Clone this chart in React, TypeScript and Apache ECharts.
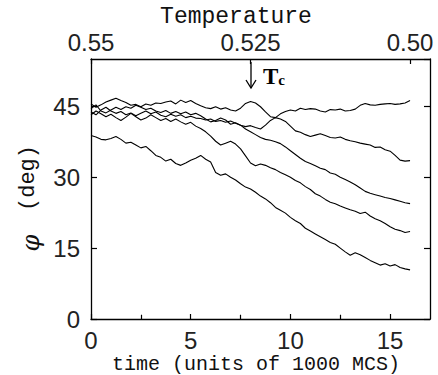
import React, { useEffect, useRef } from "react";
import * as echarts from "echarts";

const timeStep = 0.25;
const curveA = [45.5,44.8,45.3,45.9,46.3,46.7,46.2,45.8,45.2,45.4,44.9,45.5,45.2,45.7,45.6,45.9,46.1,45.5,46.3,45.8,46.2,45.6,45.1,44.7,44.5,44.9,44.4,44.7,44.2,44.0,44.6,45.6,46.0,45.7,44.9,43.8,42.8,42.6,43.4,43.9,44.2,44.0,44.6,44.3,44.5,44.4,44.0,43.8,44.3,44.2,44.4,44.0,44.1,44.4,45.2,45.6,45.3,45.2,45.4,45.5,45.6,45.4,45.5,45.7,46.2];
const curveB = [44.5,45.3,44.0,43.6,44.2,44.8,44.3,44.9,44.6,45.2,44.8,44.3,44.6,44.0,43.7,44.1,43.5,43.9,43.4,43.8,43.2,43.5,43.0,42.3,41.7,42.0,42.5,42.1,41.2,41.5,41.0,40.7,40.9,40.5,40.2,41.0,42.0,42.6,42.3,41.8,40.8,39.8,39.5,39.0,38.6,38.9,39.2,38.8,38.4,38.3,38.5,38.0,37.7,37.5,37.2,37.0,36.8,36.3,36.4,35.8,35.5,34.6,33.6,33.4,33.5];
const curveC = [43.8,43.2,44.2,44.8,44.0,43.5,43.9,43.2,43.6,43.0,43.5,44.0,43.4,43.8,43.1,42.8,43.3,42.9,43.2,42.6,42.9,42.5,42.4,42.1,42.3,41.8,42.0,41.6,41.9,41.4,41.0,40.2,39.6,39.0,38.4,38.0,37.8,37.5,37.1,36.4,35.6,34.8,34.0,33.3,32.9,32.4,31.9,31.6,30.9,30.6,30.0,29.5,29.0,28.4,27.7,27.0,26.6,26.3,26.0,25.7,25.5,25.2,24.9,24.6,24.4];
const curveD = [43.2,44.0,43.4,42.8,43.3,42.6,42.0,42.7,43.5,42.8,42.1,42.5,43.2,42.6,42.0,42.4,41.8,42.3,41.7,41.2,41.6,40.8,40.3,39.6,38.7,37.6,36.8,37.2,37.6,37.0,36.0,34.5,33.0,32.4,32.8,32.5,32.0,31.6,31.0,30.5,30.0,29.3,28.8,28.0,27.4,26.5,26.0,25.3,24.7,24.4,23.9,23.5,23.1,22.8,22.3,22.6,21.8,21.2,20.8,20.2,19.5,19.0,18.7,18.3,18.5];
const curveE = [38.8,38.5,38.0,37.9,38.2,38.6,38.0,37.2,37.4,36.8,36.2,36.5,35.6,34.6,34.2,33.4,33.8,32.9,32.5,33.0,33.6,34.0,34.6,33.8,33.2,31.0,30.4,30.7,30.0,29.4,28.6,27.9,27.5,26.8,26.0,25.4,24.6,23.6,23.0,22.4,21.5,20.8,20.2,19.2,18.6,18.0,17.4,16.8,16.2,15.8,15.0,14.2,13.5,14.0,13.6,13.0,12.4,11.9,11.4,11.7,11.2,11.5,10.9,10.6,10.4];
const curves = [curveA, curveB, curveC, curveD, curveE];

const xTicks = [0, 5, 10, 15];
const xMinorTicks = [2.5, 7.5, 12.5];
const yTicks = [0, 15, 30, 45];
const tempTickTimes = [0, 8, 16];
const tempTickLabels = ["0.55", "0.525", "0.50"];
const tcTime = 8;

const tickFont = "Liberation Sans";
const monoFont = "Liberation Mono";

export default function App() {
  const ref = useRef<HTMLDivElement>(null);
  useEffect(() => {
    if (!ref.current) return;
    const chart = echarts.init(ref.current, undefined, { renderer: "svg" });
    const series: any[] = curves.map((c) => ({
      type: "line",
      data: c.map((v, i) => [i * timeStep, v]),
      showSymbol: false,
      symbol: "none",
      lineStyle: { color: "#000", width: 1.1 },
      xAxisIndex: 0,
      yAxisIndex: 0,
      silent: true,
    }));
    series[0].markLine = {
      silent: true,
      symbol: ["none", "none"],
      label: { show: false },
      lineStyle: { color: "#000", width: 1.2, type: "solid" },
      data: xMinorTicks.map((t) => [{ coord: [t, 0] }, { coord: [t, 0.9] }]),
    };
    const axisLine = { show: true, onZero: false, lineStyle: { color: "#000", width: 1.3 } };
    const labelStyle = { fontFamily: tickFont, fontSize: 24, color: "#222" };
    chart.setOption({
      animation: false,
      backgroundColor: "#fff",
      grid: { left: 91, right: 8, top: 59, bottom: 56, containLabel: false },
      xAxis: [
        {
          type: "value",
          position: "bottom",
          min: 0,
          max: 17,
          interval: 5,
          axisLine,
          axisTick: { show: true, inside: true, length: 5, lineStyle: { color: "#000", width: 1.2 } },
          splitLine: { show: false },
          axisLabel: {
            ...labelStyle,
            showMaxLabel: false,
            margin: 9,
            formatter: (v: number) => (xTicks.includes(v) ? String(v) : ""),
          },
        },
        {
          type: "value",
          position: "top",
          min: 0,
          max: 17,
          interval: 8,
          axisLine,
          axisTick: { show: true, inside: true, length: 5, lineStyle: { color: "#000", width: 1.2 } },
          splitLine: { show: false },
          axisLabel: {
            ...labelStyle,
            showMaxLabel: false,
            margin: 5,
            formatter: (v: number) => {
              const i = tempTickTimes.indexOf(v);
              return i >= 0 ? tempTickLabels[i] : "";
            },
          },
        },
      ],
      yAxis: [
        {
          type: "value",
          position: "left",
          min: 0,
          max: 55,
          interval: 15,
          axisLine,
          axisTick: { show: true, inside: true, length: 6, lineStyle: { color: "#000", width: 1.2 } },
          splitLine: { show: false },
          axisLabel: {
            ...labelStyle,
            showMaxLabel: false,
            margin: 11,
            formatter: (v: number) => (yTicks.includes(v) ? String(v) : ""),
          },
        },
        {
          type: "value",
          position: "right",
          min: 0,
          max: 55,
          interval: 15,
          axisLine,
          axisTick: { show: true, inside: true, length: 6, lineStyle: { color: "#000", width: 1.2 } },
          splitLine: { show: false },
          axisLabel: { show: false },
        },
      ],
      graphic: [
        {
          type: "text",
          x: 236,
          y: 17,
          style: { text: "Temperature", font: `23px "${monoFont}"`, fill: "#111", align: "center", verticalAlign: "middle" },
        },
        {
          type: "text",
          x: 256,
          y: 364,
          style: { text: "time (units of 1000 MCS)", font: `20px "${monoFont}"`, fill: "#111", align: "center", verticalAlign: "middle" },
        },
        {
          type: "text",
          x: 28,
          y: 178,
          rotation: Math.PI / 2,
          style: { text: "(deg)", font: `22px "${monoFont}"`, fill: "#111", align: "center", verticalAlign: "middle" },
        },
        {
          type: "text",
          x: 31,
          y: 243,
          rotation: Math.PI / 2,
          style: { text: "φ", font: `italic 24px "DejaVu Serif"`, fill: "#111", align: "center", verticalAlign: "middle" },
        },
        {
          type: "line",
          shape: { x1: 90 + tcTime * 20 + 1, y1: 62, x2: 90 + tcTime * 20 + 1, y2: 88 },
          style: { stroke: "#000", lineWidth: 1.3 },
        },
        {
          type: "polyline",
          shape: { points: [[246, 80], [251, 88], [256, 80]] },
          style: { stroke: "#000", lineWidth: 1.3, fill: null },
        },
        {
          type: "text",
          x: 263,
          y: 76,
          style: {
            text: "{t|T}{c|c}",
            fill: "#000",
            verticalAlign: "middle",
            rich: {
              t: { font: `bold 23px "Liberation Serif"`, fill: "#000" },
              c: { font: `bold 15px "Liberation Serif"`, fill: "#000", padding: [8, 0, 0, 0] },
            },
          },
        },
      ],
      series,
    });
    return () => chart.dispose();
  }, []);
  return (
    <div
      ref={ref}
      style={{ position: "fixed", left: 0, top: 0, width: 438, height: 375, background: "#fff" }}
    />
  );
}
